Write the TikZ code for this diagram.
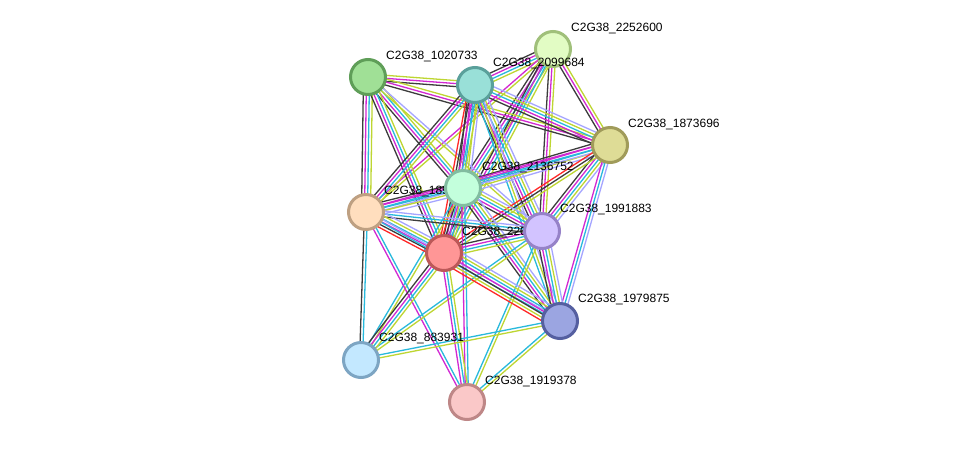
\documentclass[tikz,border=0pt]{standalone}
\usepackage{fontspec}
\setmainfont{Liberation Sans}
\usetikzlibrary{calc}
\definecolor{ctxt}{RGB}{190,214,50}
\definecolor{cdb}{RGB}{40,185,220}
\definecolor{cexp}{RGB}{210,40,210}
\definecolor{ccoexp}{RGB}{60,60,60}
\definecolor{chom}{RGB}{165,165,255}
\definecolor{cfus}{RGB}{255,40,40}
\definecolor{cnbh}{RGB}{40,200,40}
\newcommand\bund[4]{%
  \foreach \c [count=\i] in {#4} {%
    \pgfmathsetmacro\off{(\i-(#3+1)/2)*3.0}%
    \pgfmathsetmacro\ang{\off<0?-90:90}%
    \pgfmathsetmacro\angb{-\ang}%
    \pgfmathsetmacro\aoff{abs(\off)+0.001}%
    \draw[\c] ($(#1)!\aoff pt!\ang:(#2)$) -- ($(#2)!\aoff pt!\angb:(#1)$);
  }}
\begin{document}
\begin{tikzpicture}[x=1pt,y=-1pt,
  etxt/.style={draw=ctxt,line width=1.3pt},
  edb/.style={draw=cdb,line width=1.3pt},
  eexp/.style={draw=cexp,line width=1.3pt},
  ecoexp/.style={draw=ccoexp,line width=1.3pt},
  ehom/.style={draw=chom,line width=1.3pt},
  efus/.style={draw=cfus,line width=1.3pt},
  enbh/.style={draw=cnbh,line width=1.3pt},
  gnode/.style={circle,minimum size=35pt,line width=3pt,inner sep=0pt},
  lbl/.style={anchor=west,font=\fontsize{12}{14}\selectfont,inner sep=0pt,text=black}]
\useasboundingbox (0,0) rectangle (975,448);
\fill[white] (0,0) rectangle (975,448);
\coordinate (A) at (553,49);
\coordinate (B) at (368,77);
\coordinate (C) at (475,85);
\coordinate (D) at (610,145);
\coordinate (E) at (463,188);
\coordinate (F) at (366,212);
\coordinate (G) at (542,231);
\coordinate (H) at (444,253);
\coordinate (I) at (560,321);
\coordinate (J) at (361,360);
\coordinate (K) at (467,402);
% edges
\bund{A}{C}{4}{ecoexp,eexp,edb,etxt}
\bund{A}{D}{3}{ecoexp,eexp,etxt}
\bund{A}{E}{4}{ecoexp,eexp,edb,etxt}
\bund{A}{F}{2}{eexp,etxt}
\bund{A}{G}{3}{ecoexp,eexp,etxt}
\bund{A}{H}{4}{ecoexp,eexp,edb,etxt}
\bund{B}{C}{3}{ecoexp,eexp,etxt}
\bund{B}{D}{3}{ecoexp,eexp,etxt}
\bund{B}{E}{4}{ecoexp,eexp,edb,etxt}
\bund{B}{F}{4}{ecoexp,eexp,edb,etxt}
\bund{B}{G}{2}{etxt,ehom}
\bund{B}{H}{4}{ecoexp,eexp,edb,etxt}
\bund{C}{D}{5}{ecoexp,eexp,edb,etxt,ehom}
\bund{C}{E}{5}{ecoexp,eexp,edb,etxt,ehom}
\bund{C}{F}{4}{ecoexp,eexp,edb,etxt}
\bund{C}{G}{5}{ecoexp,eexp,edb,etxt,ehom}
\bund{C}{H}{5}{efus,ecoexp,eexp,edb,etxt}
\bund{C}{I}{3}{edb,etxt,ehom}
\bund{D}{E}{5}{ecoexp,eexp,edb,etxt,ehom}
\bund{D}{F}{3}{eexp,edb,ehom}
\bund{D}{G}{5}{ecoexp,eexp,edb,etxt,ehom}
\bund{D}{H}{3}{efus,ecoexp,etxt}
\bund{D}{I}{3}{eexp,edb,ehom}
\bund{E}{F}{5}{ecoexp,eexp,edb,etxt,ehom}
\bund{E}{G}{5}{ecoexp,eexp,edb,etxt,ehom}
\bund{E}{H}{5}{efus,ecoexp,eexp,edb,etxt}
\bund{E}{I}{5}{ecoexp,eexp,edb,etxt,ehom}
\bund{E}{J}{2}{edb,etxt}
\bund{E}{K}{2}{eexp,edb}
\bund{F}{G}{3}{ecoexp,edb,ehom}
\bund{F}{H}{6}{efus,ecoexp,eexp,edb,etxt,ehom}
\bund{F}{I}{2}{edb,ehom}
\bund{F}{J}{2}{ecoexp,edb}
\bund{F}{K}{2}{eexp,edb}
\bund{G}{H}{4}{ecoexp,eexp,edb,etxt}
\bund{G}{I}{5}{ecoexp,eexp,edb,etxt,ehom}
\bund{G}{J}{2}{edb,etxt}
\bund{G}{K}{2}{edb,etxt}
\bund{H}{I}{7}{efus,etxt,ecoexp,eexp,edb,etxt,ehom}
\bund{H}{J}{4}{ecoexp,eexp,edb,etxt}
\bund{H}{K}{3}{eexp,edb,etxt}
\bund{I}{J}{2}{edb,etxt}
\bund{I}{K}{2}{edb,etxt}
% labels hidden partly by nodes
\node[lbl] (lF) at ($(F)+(18,-21)$) {C2G38\_1895};
\node[lbl] (lH) at ($(H)+(18,-21)$) {C2G38\_2207};
% nodes
\node[gnode,fill={rgb,255:red,226;green,252;blue,196},draw={rgb,255:red,160;green,192;blue,122}] (nA) at (A) {};
\node[gnode,fill={rgb,255:red,160;green,224;blue,150},draw={rgb,255:red,95;green,158;blue,88}] (nB) at (B) {};
\node[gnode,fill={rgb,255:red,153;green,224;blue,216},draw={rgb,255:red,90;green,160;blue,155}] (nC) at (C) {};
\node[gnode,fill={rgb,255:red,222;green,220;blue,150},draw={rgb,255:red,160;green,155;blue,90}] (nD) at (D) {};
\node[gnode,fill={rgb,255:red,195;green,255;blue,220},draw={rgb,255:red,130;green,188;blue,160}] (nE) at (E) {};
\node[gnode,fill={rgb,255:red,255;green,222;blue,190},draw={rgb,255:red,190;green,160;blue,130}] (nF) at (F) {};
\node[gnode,fill={rgb,255:red,210;green,195;blue,255},draw={rgb,255:red,150;green,130;blue,200}] (nG) at (G) {};
\node[gnode,fill={rgb,255:red,255;green,150;blue,150},draw={rgb,255:red,188;green,88;blue,88}] (nH) at (H) {};
\node[gnode,fill={rgb,255:red,155;green,165;blue,225},draw={rgb,255:red,85;green,95;blue,160}] (nI) at (I) {};
\node[gnode,fill={rgb,255:red,195;green,232;blue,255},draw={rgb,255:red,125;green,165;blue,195}] (nJ) at (J) {};
\node[gnode,fill={rgb,255:red,250;green,200;blue,200},draw={rgb,255:red,190;green,135;blue,135}] (nK) at (K) {};
% labels
\node[lbl] (lA) at ($(A)+(18,-21)$) {C2G38\_2252600};
\node[lbl] (lB) at ($(B)+(18,-21)$) {C2G38\_1020733};
\node[lbl] (lC) at ($(C)+(18,-22)$) {C2G38\_2099684};
\node[lbl] (lD) at ($(D)+(18,-21)$) {C2G38\_1873696};
\node[lbl] (lE) at ($(E)+(19,-21)$) {C2G38\_2136752};
\node[lbl] (lG) at ($(G)+(18,-22)$) {C2G38\_1991883};
\node[lbl] (lI) at ($(I)+(18,-22)$) {C2G38\_1979875};
\node[lbl] (lJ) at ($(J)+(18,-22)$) {C2G38\_883931};
\node[lbl] (lK) at ($(K)+(18,-21)$) {C2G38\_1919378};
\end{tikzpicture}
\end{document}
